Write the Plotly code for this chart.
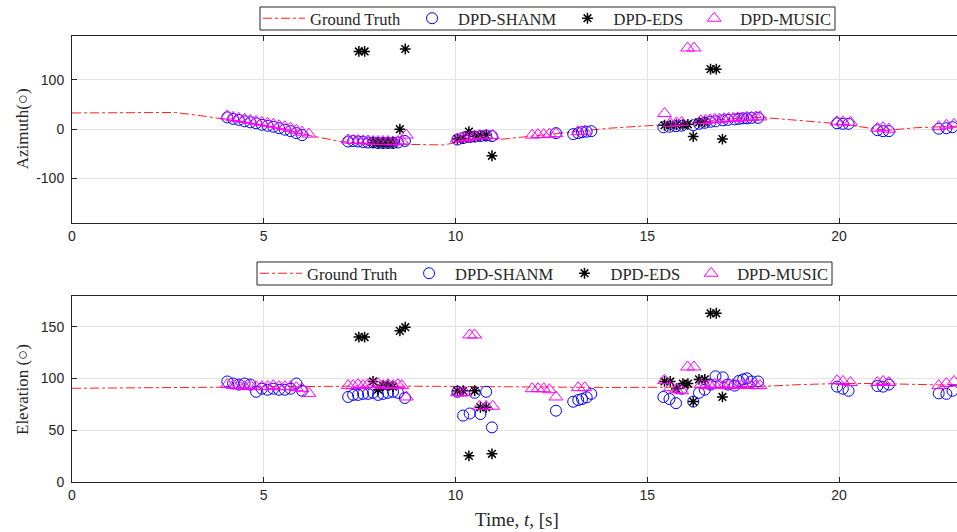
import plotly.graph_objects as go

# ---------------- data ----------------
gt_t = [0, 1, 2, 2.7, 3.5, 4, 5, 6, 7, 8, 9, 9.7, 10, 11, 12, 13, 14, 15, 16, 17, 17.5, 18, 19, 20, 21, 21.3, 22, 23, 24]
gt_az = [33, 33, 33, 34, 26, 20, 8, -10, -25, -30, -32, -32, -27, -22, -14, -6, 2, 7, 11, 20, 23, 24, 18, 11, 0, -2, 3, 7, 9]
gt_el_t = [0, 2, 4, 6, 8, 10, 12, 14, 16, 18, 19, 20, 21, 22, 23, 24]
gt_el = [90.4, 90.8, 91.3, 92, 92.6, 92.2, 91.7, 91.2, 91.5, 92.2, 94, 95, 95, 94.2, 93, 92.5]

shanm_t = [4.05, 4.2, 4.35, 4.5, 4.65, 4.8, 4.95, 5.1, 5.25, 5.4, 5.55, 5.7, 5.85, 6.0,
           7.2, 7.33, 7.46, 7.59, 7.72, 7.85, 7.98, 8.11, 8.24, 8.37, 8.5, 8.68,
           10.05, 10.2, 10.37, 10.5, 10.65, 10.8, 10.95,
           12.62,
           13.07, 13.2, 13.3, 13.42, 13.54,
           15.42, 15.58, 15.75, 15.9, 16.2, 16.35, 16.5, 16.65, 16.78, 16.97, 17.1, 17.28, 17.39, 17.5, 17.6, 17.72, 17.89,
           19.95, 20.1, 20.25,
           21.0, 21.15, 21.3,
           22.6, 22.8, 22.96]
shanm_az = [24, 21, 19, 16, 14, 12, 9, 7, 5, 2, -1, -4, -8, -12,
            -25, -24, -25, -26, -27, -27, -28, -28, -28, -28, -27, -24,
            -21, -18, -16, -15, -14, -13, -14,
            -8,
            -10, -8, -6, -5, -4,
            4, 5, 6, 7, 8, 11, 13, 15, 16, 18, 19, 20, 21, 22, 22, 23, 23,
            12, 11, 11,
            -2, -4, -4,
            1, 2, 4]
shanm_el = [97, 95, 94, 95, 94, 87, 90, 89, 90, 89, 89, 90, 95, 88,
            82, 84, 84, 85, 85, 86, 84, 85, 86, 87, 86, 81,
            87, 64, 66, 86, 65.5, 87, 52.6,
            68.7,
            77.4, 79, 80, 81.7, 85,
            82, 80, 76, 90, 77.5, 86, 89, 94, 102, 101, 94, 93, 97.5, 99, 100, 97, 97,
            92, 90, 88,
            92.6, 92, 94,
            85.5, 85, 88]

eds_t = [7.48, 7.63, 7.85, 7.98, 8.11, 8.24, 8.37, 8.55, 8.69,
         10.05, 10.2, 10.35, 10.5, 10.65, 10.8, 10.95,
         15.45, 15.6, 15.76, 15.93, 16.06, 16.2, 16.35, 16.5, 16.65, 16.8, 16.96]
eds_az = [158, 158, -27, -28, -28, -28, -28, 0, 163,
          -20, -19, -5, -15, -13, -12, -54,
          8, 8, 9, 9, 10, -15, 14, 15, 122, 122, -20]
eds_el = [140, 140, 97, 89, 93, 93, 92, 146, 149.5,
          88, 88, 25, 88, 72, 72, 27,
          97, 97, 90, 95, 95, 77.5, 99, 99, 163, 163, 82]

music_t = [4.05, 4.2, 4.35, 4.5, 4.65, 4.8, 4.95, 5.1, 5.25, 5.4, 5.55, 5.7, 5.85, 6.0, 6.18,
           7.2, 7.33, 7.46, 7.59, 7.72, 7.85, 7.98, 8.11, 8.24, 8.37, 8.5, 8.6, 8.72,
           10.05, 10.15, 10.25, 10.37, 10.5, 10.63, 10.8, 10.97,
           12.0, 12.15, 12.3, 12.45, 12.62,
           13.2, 13.37,
           15.45, 15.6, 15.76, 15.9, 16.05, 16.22, 16.4, 16.52, 16.64, 16.76, 16.88, 17.0, 17.12, 17.24, 17.36, 17.48, 17.6, 17.72, 17.84, 17.94,
           19.95, 20.1, 20.3,
           21.0, 21.15, 21.3,
           22.6, 22.8, 23.0]
music_az = [27, 24, 22, 20, 18, 16, 14, 12, 10, 7, 5, 2, -2, -6, -10,
            -22, -23, -23, -24, -24, -25, -25, -25, -25, -26, -25, -24, -12,
            -20, -18, -17, -16, -14, -13, -12, -13,
            -12, -11, -11, -10, -9,
            -5, -4,
            32, 12, 13, 14, 165, 165, 17, 18, 19, 20, 20, 21, 22, 22, 23, 23, 24, 24, 25, 25,
            15, 15, 14,
            2, 3, 0,
            5, 8, 10]
music_el = [94, 93, 93, 92, 93, 92, 92, 92, 93, 92, 92, 92, 91, 90, 85.5,
            93, 93, 94, 93, 94, 94, 95, 93, 94, 93, 94, 93, 82,
            86, 86, 86, 142, 142, 73, 73, 73,
            90, 90, 90, 89, 82,
            91, 91,
            98, 91, 89, 88, 111, 111, 94, 93, 93, 94, 94, 93, 93, 94, 93, 94, 94, 93, 93, 93,
            97.8, 97, 96,
            96, 97, 96,
            93, 95, 97]

x_ticks = [0, 5, 10, 15, 20]
az_ticks = [-100, 0, 100]
az_ticktext = ["-100", "0", "100"]
el_ticks = [0, 50, 100, 150]
names = ["Ground Truth", "DPD-SHANM", "DPD-EDS", "DPD-MUSIC"]

# ---------------- figure ----------------
ML = 72            # left margin (px)
PXU = 38.35        # pixels per second
W = 957
H = 532
PW = W - ML
fig = go.Figure()

serif = "Liberation Serif"
sans = "Liberation Sans, Arial, sans-serif"
axcol = "#262626"

def add_set(yvals_gt, t_gt, s_vals, e_vals, m_vals, xa, ya, leg):
    fig.add_trace(go.Scatter(x=t_gt, y=yvals_gt, mode="lines", name=names[0],
                             line=dict(color="#ff2020", width=1, dash="dashdot"),
                             xaxis=xa, yaxis=ya, legend=leg))
    fig.add_trace(go.Scatter(x=shanm_t, y=s_vals, mode="markers", name=names[1],
                             marker=dict(symbol="circle-open", size=11, color="#0000ff",
                                         line=dict(width=1, color="#0000ff")),
                             xaxis=xa, yaxis=ya, legend=leg))
    fig.add_trace(go.Scatter(x=eds_t, y=e_vals, mode="markers", name=names[2],
                             marker=dict(symbol="asterisk-open", size=9, color="#000000",
                                         line=dict(width=1.5, color="#000000")),
                             xaxis=xa, yaxis=ya, legend=leg))
    fig.add_trace(go.Scatter(x=music_t, y=m_vals, mode="markers", name=names[3],
                             marker=dict(symbol="triangle-up-open", size=12, color="#ff00ff",
                                         line=dict(width=1, color="#ff00ff")),
                             xaxis=xa, yaxis=ya, legend=leg))

add_set(gt_az, gt_t, shanm_az, eds_az, music_az, "x", "y", "legend")
add_set(gt_el, gt_el_t, shanm_el, eds_el, music_el, "x2", "y2", "legend2")

def py(p):
    return 1 - p / H

def px(p):
    return (p - ML) / PW

xcommon = dict(range=[0, PW / PXU], tickvals=x_ticks, showgrid=True, gridcolor="#e3e3e3",
               zeroline=False, showline=True, linecolor=axcol, linewidth=1, mirror="ticks",
               ticks="inside", ticklen=5, tickcolor=axcol,
               tickfont=dict(family=sans, size=14, color=axcol), automargin=False)
ycommon = dict(showgrid=True, gridcolor="#e3e3e3", zeroline=False, showline=True,
               linecolor=axcol, linewidth=1, mirror=False, ticks="inside", ticklen=5,
               tickcolor=axcol, tickfont=dict(family=sans, size=14, color=axcol),
               automargin=False, ticklabelstandoff=4)

legcommon = dict(orientation="h", xanchor="left", yanchor="middle",
                 bgcolor="rgba(0,0,0,0)", borderwidth=0,
                 font=dict(family=serif, size=16.5, color="#262626"), itemwidth=42)

box = dict(type="rect", xref="paper", yref="paper", layer="above",
           line=dict(color="#262626", width=1), fillcolor="white")

fig.update_layout(
    width=W, height=H,
    margin=dict(l=ML, r=0, t=0, b=0),
    paper_bgcolor="white", plot_bgcolor="white",
    showlegend=True,
    xaxis=dict(domain=[0, 1], anchor="y", **xcommon),
    yaxis=dict(domain=[py(222.7), py(35.7)], anchor="x", range=[-190, 190],
               tickvals=az_ticks, ticktext=az_ticktext, **ycommon),
    xaxis2=dict(domain=[0, 1], anchor="y2", **xcommon),
    yaxis2=dict(domain=[py(481.7), py(295.7)], anchor="x2", range=[0, 180],
                tickvals=el_ticks, **ycommon),
    legend=dict(x=px(258), y=py(18.5), **legcommon),
    legend2=dict(x=px(255), y=py(273.5), **legcommon),
    shapes=[
        dict(x0=px(260), x1=px(835), y0=py(30), y1=py(7), **box),
        dict(x0=px(257), x1=px(832), y0=py(285), y1=py(262), **box),
    ],
    annotations=[
        dict(text="Azimuth(○)", xref="paper", yref="paper", x=px(22), y=py(129.3),
             textangle=-90, showarrow=False, font=dict(family=serif, size=17, color=axcol),
             xanchor="center", yanchor="middle"),
        dict(text="Elevation (○)", xref="paper", yref="paper", x=px(22), y=py(390),
             textangle=-90, showarrow=False, font=dict(family=serif, size=17, color=axcol),
             xanchor="center", yanchor="middle"),
        dict(text="Time, <i>t</i>, [s]", xref="paper", yref="paper", x=px(517), y=py(519),
             showarrow=False, font=dict(family=serif, size=19, color=axcol),
             xanchor="center", yanchor="middle"),
    ],
)

fig.write_html("out.html", config={"displayModeBar": False},
               post_script="document.body.style.margin='0px';")
